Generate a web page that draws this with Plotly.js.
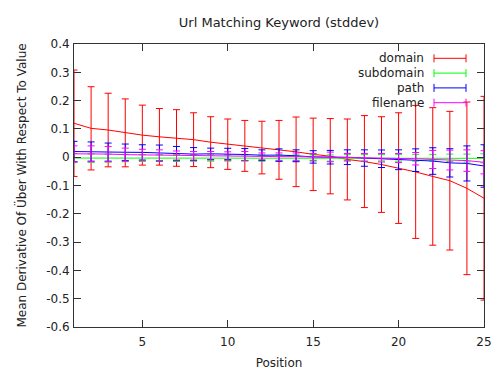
<!DOCTYPE html>
<html>
<head>
<meta charset="utf-8">
<script src="https://cdn.plot.ly/plotly-3.0.1.min.js"></script>
<style>body{margin:0;padding:0;background:#fff}#chart{width:500px;height:375px}</style>
</head>
<body>
<div id="chart"></div>
<script>
var positions = [1,2,3,4,5,6,7,8,9,10,11,12,13,14,15,16,17,18,19,20,21,22,23,24,25];

var domainMean = [0.12,0.102,0.096,0.086,0.078,0.072,0.068,0.062,0.053,0.046,0.040,0.034,0.026,0.019,0.010,0.0035,-0.008,-0.0155,-0.026,-0.0385,-0.052,-0.068,-0.083,-0.11,-0.145];
var domainErr  = [0.188,0.147,0.13,0.12,0.106,0.10,0.10,0.095,0.09,0.089,0.09,0.093,0.104,0.123,0.128,0.133,0.143,0.1625,0.169,0.1955,0.235,0.243,0.245,0.305,0.36];

var subdomainMean = [-0.003,-0.003,-0.003,-0.003,-0.003,-0.003,-0.003,-0.003,-0.003,-0.003,-0.003,-0.003,-0.003,-0.003,-0.003,-0.003,-0.002,-0.002,-0.002,-0.002,-0.002,-0.002,-0.002,-0.003,-0.004];
var subdomainErr  = [0.016,0.015,0.014,0.013,0.012,0.012,0.012,0.011,0.011,0.011,0.011,0.011,0.011,0.011,0.011,0.011,0.011,0.011,0.011,0.012,0.012,0.012,0.013,0.014,0.016];

var pathMean = [0.02,0.02,0.018,0.0175,0.017,0.015,0.013,0.011,0.012,0.0115,0.0095,0.007,0.0075,0.005,0.001,0.0,0.0,-0.003,-0.0055,-0.009,-0.0105,-0.0135,-0.02,-0.022,-0.031];
var pathErr  = [0.036,0.034,0.032,0.029,0.027,0.028,0.025,0.023,0.02,0.02,0.021,0.019,0.022,0.021,0.022,0.024,0.026,0.029,0.031,0.035,0.04,0.047,0.05,0.062,0.075];

var filenameMean = [0.012,0.012,0.011,0.009,0.008,0.007,0.006,0.005,0.005,0.004,0.004,0.003,0.002,0.002,0.001,0.001,0.0,-0.001,-0.002,-0.003,-0.0055,-0.008,-0.01,-0.012,-0.018];
var filenameErr  = [0.028,0.028,0.027,0.023,0.02,0.019,0.016,0.015,0.015,0.015,0.016,0.012,0.013,0.013,0.012,0.017,0.013,0.014,0.015,0.016,0.022,0.032,0.035,0.038,0.041];

var seriesNames = ['domain','subdomain','path','filename'];
var seriesColors = ['#ff0000','#00ff00','#0000ff','#ff00ff'];
var seriesMeans = [domainMean, subdomainMean, pathMean, filenameMean];
var seriesErrs = [domainErr, subdomainErr, pathErr, filenameErr];

var xTickVals = [5,10,15,20,25];
var xTickText = ['5','10','15','20','25'];
var yTickVals = [0.4,0.3,0.2,0.1,0,-0.1,-0.2,-0.3,-0.4,-0.5,-0.6];
var yTickText = ['0.4','0.3','0.2','0.1','0','-0.1','-0.2','-0.3','-0.4','-0.5','-0.6'];

var FONT = 'DejaVu Sans, sans-serif';
var W = 500, H = 375, L = 74, R = 16, T = 44, B = 48;
function px(x){ return (x - L) / (W - L - R); }
function py(y){ return (H - B - y) / (H - T - B); }

var traces = seriesNames.map(function(n, i){
  return {
    type: 'scatter', mode: 'lines', name: n,
    x: positions, y: seriesMeans[i],
    line: {color: seriesColors[i], width: 1},
    error_y: {type: 'data', array: seriesErrs[i], visible: true, color: seriesColors[i], thickness: 1, width: 3.5},
    showlegend: false
  };
});

var shapes = [], annotations = [];
seriesNames.forEach(function(n, i){
  var yy = 58.3 + i * 14.8;
  var x0 = 434, x1 = 466;
  shapes.push({type:'line', xref:'paper', yref:'paper', x0:px(x0), x1:px(x1), y0:py(yy), y1:py(yy), line:{color:seriesColors[i], width:1}});
  shapes.push({type:'line', xref:'paper', yref:'paper', x0:px(x0), x1:px(x0), y0:py(yy-4), y1:py(yy+4), line:{color:seriesColors[i], width:1}});
  shapes.push({type:'line', xref:'paper', yref:'paper', x0:px(x1), x1:px(x1), y0:py(yy-4), y1:py(yy+4), line:{color:seriesColors[i], width:1}});
  annotations.push({xref:'paper', yref:'paper', x:px(426), y:py(yy), xanchor:'right', yanchor:'middle', text:n, showarrow:false, font:{family:FONT, size:12, color:'#222'}});
});

var layout = {
  width: W, height: H,
  margin: {l: L, r: R, t: T, b: B, pad: 0},
  paper_bgcolor: '#fff', plot_bgcolor: '#fff',
  font: {family: FONT, size: 12, color: '#222'},
  title: {text: 'Url Matching Keyword (stddev)', xref: 'paper', x: 0.5, xanchor: 'center', yref: 'container', y: 1 - 22/H, yanchor: 'middle', font: {family: FONT, size: 13, color: '#222'}},
  xaxis: {
    range: [1, 25], tickmode: 'array', tickvals: xTickVals, ticktext: xTickText,
    ticks: 'inside', ticklen: 7, tickcolor: '#333', showline: true, linecolor: '#333', linewidth: 1,
    mirror: 'allticks', showgrid: false, zeroline: false, ticklabelstandoff: 4,
    title: {text: 'Position', standoff: 10, font: {family: FONT, size: 12, color: '#222'}}
  },
  yaxis: {
    range: [-0.6, 0.4], tickmode: 'array', tickvals: yTickVals, ticktext: yTickText,
    ticks: 'inside', ticklen: 7, tickcolor: '#333', showline: true, linecolor: '#333', linewidth: 1,
    mirror: 'allticks', showgrid: false, zeroline: false, ticklabelstandoff: 1,
    title: {text: 'Mean Derivative Of Über With Respect To Value', standoff: 16, font: {family: FONT, size: 12, color: '#222'}}
  },
  shapes: shapes,
  annotations: annotations
};

Plotly.newPlot('chart', traces, layout, {staticPlot: true, displayModeBar: false});
</script>
</body>
</html>
